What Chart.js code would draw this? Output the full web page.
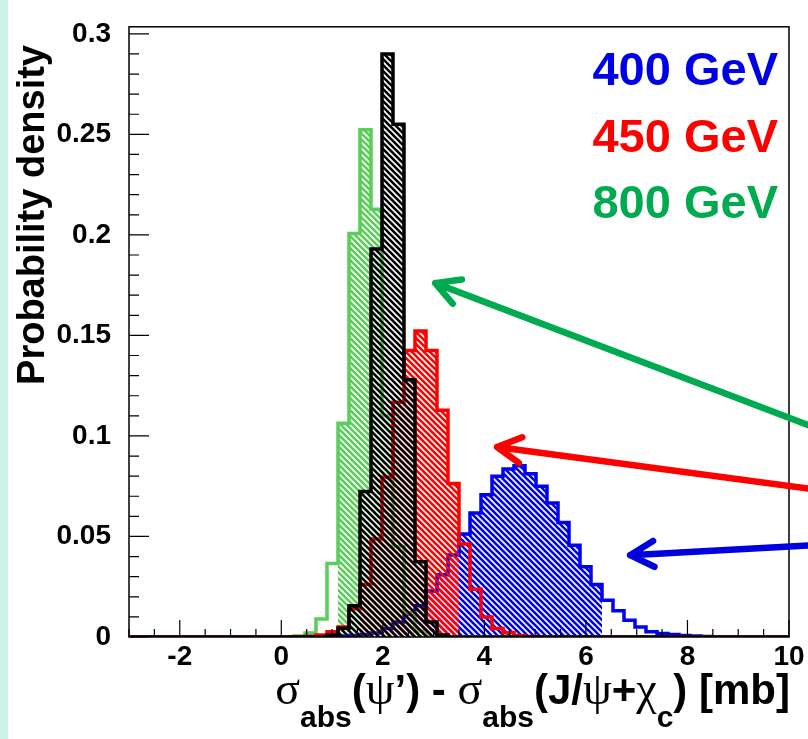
<!DOCTYPE html>
<html>
<head>
<meta charset="utf-8">
<script src="https://cdn.jsdelivr.net/npm/chart.js@4.4.1/dist/chart.umd.min.js"></script>
<style>
  html, body { margin: 0; padding: 0; background: #fff; }
  #wrap { position: relative; width: 808px; height: 739px; }
</style>
</head>
<body>
<div id="wrap"><canvas id="chart"></canvas></div>
<script>
// binning: 60 bins between -3 and 10 mb
const xMin = -3, xMax = 10, nBins = 60;

// probability per bin (bin by bin)
const blue400 = [
  0, 0, 0, 0, 0, 0, 0, 0, 0, 0,
  0, 0, 0, 0, 0, 0, 0, 0, 0.0003, 0.0005,
  0.0008, 0.0012, 0.002, 0.0042, 0.0074, 0.0115, 0.0156, 0.0229, 0.031, 0.0408,
  0.0512, 0.0617, 0.0707, 0.0799, 0.0836, 0.0852, 0.0812, 0.075, 0.0666, 0.0569,
  0.0456, 0.035, 0.0261, 0.0183, 0.0131, 0.0083, 0.005, 0.0026, 0.0018, 0.0012,
  0.0008, 0.0005, 0.0003, 0, 0, 0, 0, 0, 0, 0
];
const red450 = [
  0, 0, 0, 0, 0, 0, 0, 0, 0, 0,
  0, 0, 0, 0, 0, 0, 0.0004, 0.001, 0.0026, 0.005,
  0.014, 0.0261, 0.0488, 0.0796, 0.1168, 0.1425, 0.1522, 0.1425, 0.1128, 0.0763,
  0.0463, 0.0237, 0.0099, 0.0042, 0.0021, 0.0008, 0.0003, 0, 0, 0,
  0, 0, 0, 0, 0, 0, 0, 0, 0, 0,
  0, 0, 0, 0, 0, 0, 0, 0, 0, 0
];
const green800 = [
  0, 0, 0, 0, 0, 0, 0, 0, 0, 0,
  0, 0, 0, 0, 0, 0.0005, 0.002, 0.009, 0.0366, 0.1063,
  0.2007, 0.2523, 0.2128, 0.11, 0.045, 0.012, 0.003, 0, 0, 0,
  0, 0, 0, 0, 0, 0, 0, 0, 0, 0,
  0, 0, 0, 0, 0, 0, 0, 0, 0, 0,
  0, 0, 0, 0, 0, 0, 0, 0, 0, 0
];
const blackCombined = [
  0, 0, 0, 0, 0, 0, 0, 0, 0, 0,
  0, 0, 0, 0, 0, 0, 0, 0, 0.001, 0.0044,
  0.0156, 0.0724, 0.193, 0.29, 0.255, 0.128, 0.0374, 0.0074, 0.001, 0,
  0, 0, 0, 0, 0, 0, 0, 0, 0, 0,
  0, 0, 0, 0, 0, 0, 0, 0, 0, 0,
  0, 0, 0, 0, 0, 0, 0, 0, 0, 0
];

// axis ticks and labels
const xTickValues = [-2, 0, 2, 4, 6, 8, 10];
const yTickValues = [0, 0.05, 0.1, 0.15, 0.2, 0.25, 0.3];
const yTickLabels = ['0', '0.05', '0.1', '0.15', '0.2', '0.25', '0.3'];
const energyLabels = ['400 GeV', '450 GeV', '800 GeV'];

const FONT = "'Liberation Sans', Arial, Helvetica, sans-serif";
const GREEK = "'Liberation Serif', 'DejaVu Serif', serif";
const binW = (xMax - xMin) / nBins;

// bin edges -> points for a stepped line (value holds until next edge)
function stepPoints(values, from, to) {
  const pts = [];
  for (let k = from; k <= to; k++) pts.push({ x: xMin + k * binW, y: values[k] });
  pts.push({ x: xMin + (to + 1) * binW, y: values[to] });
  return pts;
}

const mainCtx = document.getElementById('chart').getContext('2d');
function hatch(color) {
  const c = document.createElement('canvas');
  const p = 6;
  c.width = p; c.height = p;
  const g = c.getContext('2d');
  g.strokeStyle = color;
  g.lineWidth = 2.6;
  g.beginPath();
  g.moveTo(-1, -1); g.lineTo(p + 1, p + 1);
  g.moveTo(p - 1, -1); g.lineTo(p + 1, 1);
  g.moveTo(-1, p - 1); g.lineTo(1, p + 1);
  g.stroke();
  return mainCtx.createPattern(c, 'repeat');
}

// histogram definitions: colour and the bins that ROOT hatched
const series = [
  { values: blackCombined, color: '#000000', hatchFrom: 18, hatchTo: 28 },
  { values: red450, color: '#ff0000', hatchFrom: 21, hatchTo: 29 },
  { values: green800, color: '#5acd5a', hatchFrom: 19, hatchTo: 26 },
  { values: blue400, color: '#0000f0', hatchFrom: 24, hatchTo: 42 }
];

const datasets = [];
series.forEach(s => {
  datasets.push({
    data: stepPoints(s.values, 0, nBins - 1),
    stepped: 'before',
    borderColor: s.color,
    borderWidth: 3.5,
    pointRadius: 0,
    fill: false
  });
  datasets.push({
    data: stepPoints(s.values, s.hatchFrom, s.hatchTo),
    stepped: 'before',
    borderWidth: 0,
    borderColor: 'rgba(0,0,0,0)',
    backgroundColor: hatch(s.color),
    pointRadius: 0,
    fill: 'origin'
  });
});

// arrows pointing at the histograms (axis units)
const arrows = [
  { color: '#00aa4f', tip: [3.03, 0.176], tail: [11.0, 0.0994] },
  { color: '#ff0000', tip: [4.25, 0.0945], tail: [11.0, 0.0718] },
  { color: '#0000e0', tip: [6.87, 0.0407], tail: [11.0, 0.0464] }
];
const labelColors = ['#0000e6', '#ff0000', '#00aa4f'];

const decor = {
  id: 'decor',
  beforeDraw(chart) {
    const ctx = chart.ctx;
    ctx.save();
    ctx.fillStyle = '#ffffff';
    ctx.fillRect(0, 0, chart.width, chart.height);
    ctx.fillStyle = '#cdf3e6';
    ctx.fillRect(0, 0, 8, chart.height);
    ctx.restore();
  },
  afterDatasetsDraw(chart) {
    const ctx = chart.ctx, a = chart.chartArea;
    const xs = chart.scales.x, ys = chart.scales.y;
    ctx.save();
    ctx.strokeStyle = '#000';
    ctx.lineWidth = 1.5;
    ctx.strokeRect(a.left, a.top, a.right - a.left, a.bottom - a.top);
    ctx.lineWidth = 1.2;
    ctx.beginPath();
    // y ticks: major every 0.05, minor every 0.01
    for (let i = 0; i <= 30; i++) {
      const py = ys.getPixelForValue(i * 0.01);
      const len = i % 5 === 0 ? 20 : 10;
      ctx.moveTo(a.left, py); ctx.lineTo(a.left + len, py);
    }
    // x ticks: major every 2, minor every 0.5
    for (let v = -3; v <= 10.001; v += 0.5) {
      const px = xs.getPixelForValue(v);
      const len = Math.abs(v % 2) < 1e-6 ? 17 : 8;
      ctx.moveTo(px, a.bottom); ctx.lineTo(px, a.bottom - len);
    }
    ctx.stroke();
    ctx.restore();
  },
  afterDraw(chart) {
    const ctx = chart.ctx;
    const xs = chart.scales.x, ys = chart.scales.y;
    ctx.save();

    // energy labels
    ctx.font = 'bold 47px ' + FONT;
    ctx.textAlign = 'right';
    ctx.textBaseline = 'alphabetic';
    [85, 152, 218].forEach((y, i) => {
      ctx.fillStyle = labelColors[i];
      ctx.fillText(energyLabels[i], 778, y);
    });

    // arrows
    arrows.forEach(ar => {
      const tx = xs.getPixelForValue(ar.tip[0]), ty = ys.getPixelForValue(ar.tip[1]);
      const sx = xs.getPixelForValue(ar.tail[0]), sy = ys.getPixelForValue(ar.tail[1]);
      const ang = Math.atan2(sy - ty, sx - tx);
      const head = 27, spread = 0.5;
      ctx.strokeStyle = ar.color;
      ctx.lineWidth = 6.5;
      ctx.lineCap = 'round';
      ctx.lineJoin = 'round';
      ctx.beginPath();
      ctx.moveTo(sx, sy); ctx.lineTo(tx, ty);
      ctx.moveTo(tx + head * Math.cos(ang - spread), ty + head * Math.sin(ang - spread));
      ctx.lineTo(tx, ty);
      ctx.lineTo(tx + head * Math.cos(ang + spread), ty + head * Math.sin(ang + spread));
      ctx.stroke();
    });

    // y axis title
    ctx.fillStyle = '#000';
    ctx.save();
    ctx.translate(44, 45);
    ctx.rotate(-Math.PI / 2);
    ctx.font = 'bold 38px ' + FONT;
    ctx.textAlign = 'right';
    ctx.textBaseline = 'alphabetic';
    ctx.fillText('Probability density', 0, 0);
    ctx.restore();

    // x axis title with subscripts
    const parts = [
      ['σ', 'g'], ['abs', 's'], ['(', 'b'], ['ψ', 'g'], ['’) - ', 'b'],
      ['σ', 'g'], ['abs', 's'], ['(J/', 'b'], ['ψ', 'g'], ['+', 'b'],
      ['χ', 'g'], ['c', 's'], [') [mb]', 'b']
    ];
    const fonts = { g: '46px ' + GREEK, s: 'bold 30px ' + FONT, b: 'bold 42px ' + FONT };
    const base = 704;
    let total = 0;
    parts.forEach(p => { ctx.font = fonts[p[1]]; total += ctx.measureText(p[0]).width; });
    let x = 790 - total;
    ctx.textAlign = 'left';
    parts.forEach(p => {
      ctx.font = fonts[p[1]];
      ctx.fillText(p[0], x, p[1] === 's' ? base + 23 : base);
      x += ctx.measureText(p[0]).width;
    });
    ctx.restore();
  }
};

new Chart(mainCtx, {
  type: 'line',
  data: { datasets: datasets },
  options: {
    responsive: true,
    maintainAspectRatio: false,
    animation: false,
    layout: { padding: { top: 13, right: 19, left: 0, bottom: 0 } },
    plugins: { legend: { display: false }, tooltip: { enabled: false } },
    scales: {
      x: {
        type: 'linear',
        min: xMin,
        max: xMax,
        grid: { display: false },
        border: { display: false },
        afterFit: s => { s.height = 102; },
        afterBuildTicks: s => { s.ticks = xTickValues.map(v => ({ value: v })); },
        ticks: {
          padding: -5,
          color: '#000',
          font: { family: FONT, size: 28, weight: 'bold' },
          maxRotation: 0,
          callback: v => String(v)
        }
      },
      y: {
        type: 'linear',
        min: 0,
        max: 0.3035,
        grid: { display: false },
        border: { display: false },
        afterFit: s => { s.width = 129; },
        afterBuildTicks: s => { s.ticks = yTickValues.map(v => ({ value: v })); },
        ticks: {
          padding: 10,
          color: '#000',
          font: { family: FONT, size: 28, weight: 'bold' },
          callback: (v, i) => yTickLabels[i]
        }
      }
    }
  },
  plugins: [decor]
});
</script>
</body>
</html>
